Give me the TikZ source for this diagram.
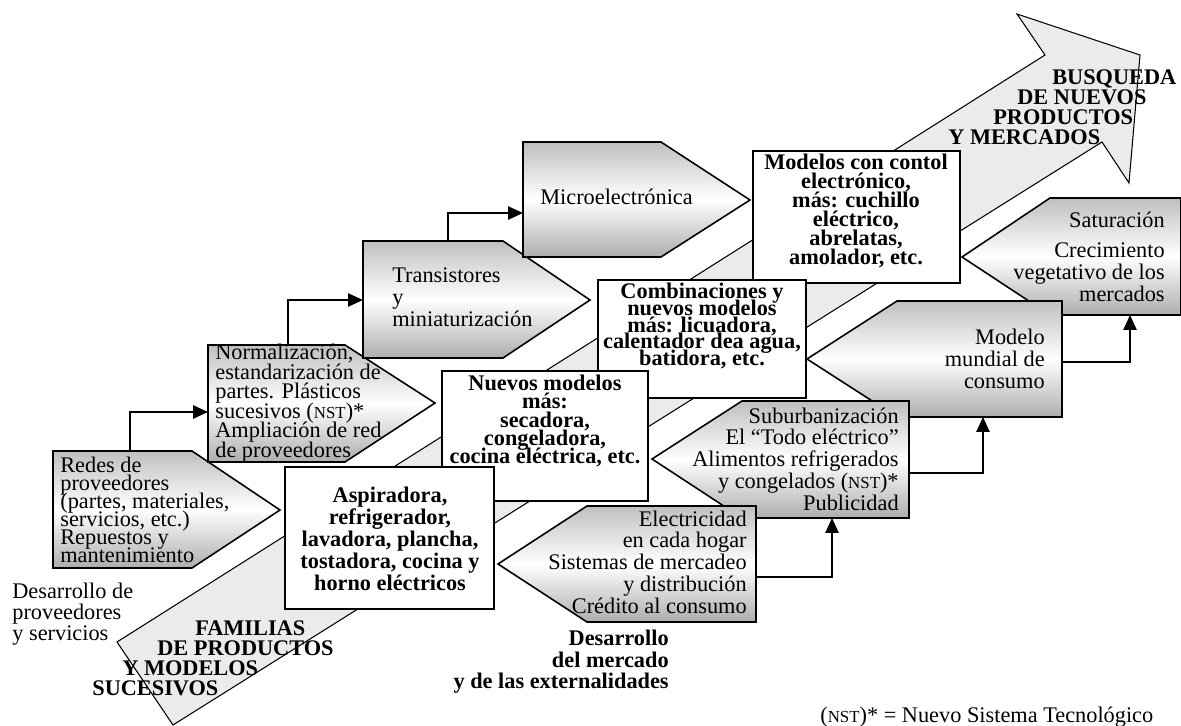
\documentclass[tikz,border=0pt]{standalone}
\usepackage{fontspec}
\setmainfont{Liberation Serif}
\usetikzlibrary{arrows.meta}
\newcommand\nst{{\fontsize{9.6}{9.6}\selectfont NST}}
\lineskiplimit=-50pt

\begin{document}
\begin{tikzpicture}[x=0.02cm,y=-0.02cm]
    \tikzstyle{bigarrow}=[draw=black,line width=0.6pt,fill=black!8]
    \tikzstyle{graybox}=[draw=black,line width=0.9pt,top color=black!25,bottom color=black!32,middle color=white]
    \tikzstyle{whitebox}=[draw=black,line width=1.3pt,fill=white,inner sep=0pt]
    \tikzstyle{txt}=[inner sep=0pt,font=\fontsize{12.7}{12.4}\selectfont]
    \tikzstyle{boldtxt}=[inner sep=0pt,align=center]
    \tikzstyle{link}=[line width=1.1pt,-{Triangle[length=8.5pt,width=7.5pt]}]
    \useasboundingbox (0,0) rectangle (1181,726);

    % big arrow behind everything
    \path[bigarrow] (117,642) -- (1045,55) -- (1017,14) -- (1140,55) -- (1129,183) -- (1102,142) -- (173,725) -- cycle;

    % left column: suppliers and technology
    \path[graybox] (53,451) -- (192,451) -- (280,510) -- (192,568) -- (53,568) -- cycle;
    \node[txt,anchor=west,align=left,font=\fontsize{12.7}{10.3}\selectfont] (redes) at (60,510)
        {Redes de\\proveedores\\(partes, materiales,\\servicios, etc.)\\Repuestos y\\mantenimiento};
    \path[graybox] (208,345) -- (345,345) -- (435,403) -- (345,462) -- (208,462) -- cycle;
    \node[txt,anchor=west,align=left,font=\fontsize{12.7}{11.1}\selectfont] (normaliz) at (215,403)
        {Normalización,\\estandarización de\\partes. Plásticos\\sucesivos (\nst)*\\Ampliación de red\\de proveedores};
    \path[graybox] (363,241) -- (503,241) -- (590,300) -- (503,358) -- (363,358) -- cycle;
    \node[txt,anchor=west,align=left] (transist) at (392,297)
        {Transistores\\y\\miniaturización};
    \path[graybox] (523,142) -- (661,142) -- (750,200) -- (661,257) -- (523,257) -- cycle;
    \node[txt,anchor=west] (microel) at (540,197) {Microelectrónica};

    \coordinate (redes-n) at (130,451);
    \coordinate (normaliz-w) at (208,412);
    \coordinate (normaliz-n) at (288,345);
    \coordinate (transist-w) at (363,300);
    \coordinate (transist-n) at (448,241);
    \coordinate (microel-w) at (523,213);

    % right column: market
    \path[graybox] (1181,198) -- (1050,198) -- (962,257) -- (1050,315) -- (1181,315) -- cycle;
    \node[txt,anchor=east,align=right,font=\fontsize{12.7}{12.5}\selectfont] (saturac) at (1165,257)
        {Saturación\\[4.5pt]Crecimiento\\vegetativo de los\\mercados};
    \path[graybox] (1062,301) -- (897,301) -- (807,359) -- (897,417) -- (1062,417) -- cycle;
    \node[txt,anchor=east,align=right,font=\fontsize{12.7}{12.5}\selectfont] (modelo) at (1045,359)
        {Modelo\\mundial de\\consumo};
    \path[graybox] (909,401) -- (742,401) -- (652,459) -- (742,518) -- (909,518) -- cycle;
    \node[txt,anchor=east,align=right] (suburb) at (899,459)
        {Suburbanización\\El “Todo eléctrico”\\Alimentos refrigerados\\y congelados (\nst)*\\Publicidad};
    \path[graybox] (756,506) -- (587,506) -- (498,564) -- (587,622) -- (756,622) -- cycle;
    \node[txt,anchor=east,align=right] (electric) at (747,562)
        {Electricidad\\en cada hogar\\Sistemas de mercadeo\\y distribución\\Crédito al consumo};

    \coordinate (electric-e) at (756,577);
    \coordinate (suburb-s) at (832,518);
    \coordinate (suburb-e) at (909,473);
    \coordinate (modelo-s) at (983,417);
    \coordinate (modelo-e) at (1062,362);
    \coordinate (saturac-s) at (1130,315);

    % product families
    \node[whitebox,minimum width=4.14cm,minimum height=2.64cm] (contol) at (856.5,217) {};
    \node[boldtxt,font=\bfseries\fontsize{12.7}{10.9}\selectfont] (contol-txt) at (856,211)
        {Modelos con contol\\electrónico,\\más: cuchillo\\eléctrico,\\abrelatas,\\amolador, etc.};
    \node[whitebox,minimum width=4.16cm,minimum height=2.36cm] (combina) at (702,339) {};
    \node[boldtxt,font=\bfseries\fontsize{12.7}{9.5}\selectfont] (combina-txt) at (702,326)
        {Combinaciones y\\nuevos modelos\\más: licuadora,\\calentador dea agua,\\batidora, etc.};
    \node[whitebox,minimum width=4.12cm,minimum height=2.6cm] (nuevos) at (545,436) {};
    \node[boldtxt,font=\bfseries\fontsize{12.7}{10.5}\selectfont] (nuevos-txt) at (545,421)
        {Nuevos modelos\\más:\\secadora,\\congeladora,\\cocina eléctrica, etc.};
    \node[whitebox,minimum width=4.18cm,minimum height=2.84cm] (aspira) at (389.5,538) {};
    \node[boldtxt,font=\bfseries\fontsize{12.7}{12.5}\selectfont] (aspira-txt) at (390,539)
        {Aspiradora,\\refrigerador,\\lavadora, plancha,\\tostadora, cocina y\\horno eléctricos};

    % connectors
    \foreach \from/\to in {redes/normaliz, normaliz/transist, transist/microel}
        \draw[link] (\from-n) |- (\to-w);
    \foreach \from/\to in {electric/suburb, suburb/modelo, modelo/saturac}
        \draw[link] (\from-e) -| (\to-s);

    % captions
    \node[txt,anchor=west,align=left,font=\fontsize{12.7}{12}\selectfont] (desprov) at (12,614)
        {Desarrollo de\\proveedores\\y servicios};
    \node[txt,anchor=west,align=left,font=\bfseries\fontsize{12.7}{11.4}\selectfont] (familias) at (92,658)
        {\hspace*{2.06cm}FAMILIAS\\\hspace*{1.3cm}DE PRODUCTOS\\\hspace*{0.6cm}Y MODELOS\\SUCESIVOS};
    \node[txt,anchor=east,align=right,font=\bfseries\fontsize{12.7}{12.2}\selectfont] (desmerc) at (669,662)
        {Desarrollo\\del mercado\\y de las externalidades};
    \node[txt,anchor=west,align=left,font=\bfseries\fontsize{12.7}{11.4}\selectfont] (busqueda) at (948,107)
        {\hspace*{2.08cm}BUSQUEDA\\\hspace*{1.38cm}DE NUEVOS\\\hspace*{0.9cm}PRODUCTOS\\Y MERCADOS};
    \node[txt,anchor=west] (nota) at (820,717) {(\nst)* = Nuevo Sistema Tecnológico};
\end{tikzpicture}
\end{document}
